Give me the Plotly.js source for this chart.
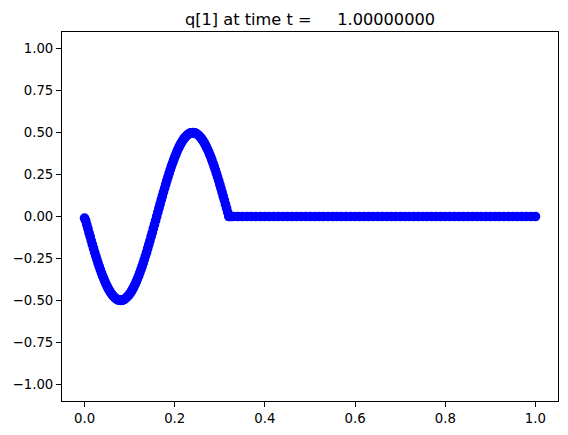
<!DOCTYPE html>
<html>
<head>
<meta charset="utf-8">
<script src="https://cdn.plot.ly/plotly-3.0.1.min.js"></script>
<style>html,body{margin:0;padding:0;background:#fff;}</style>
</head>
<body>
<div id="chart" style="width:568px;height:435px;"></div>
<script>
// x positions of the plotted points (wave part, then flat part)
const xWave = [0,0.0025,0.005,0.0075,0.01,0.0125,0.015,0.0175,0.02,0.0225,0.025,0.0275,0.03,0.0325,0.035,0.0375,0.04,
  0.0425,0.045,0.0475,0.05,0.0525,0.055,0.0575,0.06,0.0625,0.065,0.0675,0.07,0.0725,0.075,0.0775,0.08,
  0.0825,0.085,0.0875,0.09,0.0925,0.095,0.0975,0.1,0.1025,0.105,0.1075,0.11,0.1125,0.115,0.1175,0.12,
  0.1225,0.125,0.1275,0.13,0.1325,0.135,0.1375,0.14,0.1425,0.145,0.1475,0.15,0.1525,0.155,0.1575,0.16,
  0.1625,0.165,0.1675,0.17,0.1725,0.175,0.1775,0.18,0.1825,0.185,0.1875,0.19,0.1925,0.195,0.1975,0.2,
  0.2025,0.205,0.2075,0.21,0.2125,0.215,0.2175,0.22,0.2225,0.225,0.2275,0.23,0.2325,0.235,0.2375,0.24,
  0.2425,0.245,0.2475,0.25,0.2525,0.255,0.2575,0.26,0.2625,0.265,0.2675,0.27,0.2725,0.275,0.2775,0.28,
  0.2825,0.285,0.2875,0.29,0.2925,0.295,0.2975,0.3,0.3025,0.305,0.3075,0.31,0.3125,0.315,0.3175,0.32];
const qWave = [-0.010,-0.025,-0.049,-0.073,-0.098,-0.121,-0.145,-0.168,-0.191,-0.214,-0.236,-0.257,-0.278,-0.298,-0.317,-0.336,-0.354,
  -0.370,-0.387,-0.402,-0.416,-0.429,-0.441,-0.452,-0.462,-0.471,-0.478,-0.485,-0.490,-0.495,-0.498,-0.499,-0.500,
  -0.499,-0.498,-0.495,-0.490,-0.485,-0.478,-0.471,-0.462,-0.452,-0.441,-0.429,-0.416,-0.402,-0.387,-0.370,-0.354,
  -0.336,-0.317,-0.298,-0.278,-0.257,-0.236,-0.214,-0.191,-0.168,-0.145,-0.121,-0.098,-0.073,-0.049,-0.025,0.000,
  0.025,0.049,0.073,0.098,0.121,0.145,0.168,0.191,0.214,0.236,0.257,0.278,0.298,0.317,0.336,0.354,
  0.370,0.387,0.402,0.416,0.429,0.441,0.452,0.462,0.471,0.478,0.485,0.490,0.495,0.498,0.499,0.500,
  0.499,0.498,0.495,0.490,0.485,0.478,0.471,0.462,0.452,0.441,0.429,0.416,0.402,0.387,0.370,0.354,
  0.336,0.317,0.298,0.278,0.257,0.236,0.214,0.191,0.168,0.145,0.121,0.098,0.073,0.049,0.025,0.000];
const xFlat = [0.325,0.33,0.34,0.35,0.36,0.37,0.38,0.39,0.40,0.41,0.42,0.43,0.44,0.45,0.46,0.47,0.48,0.49,0.50,
  0.51,0.52,0.53,0.54,0.55,0.56,0.57,0.58,0.59,0.60,0.61,0.62,0.63,0.64,0.65,0.66,0.67,0.68,0.69,0.70,
  0.71,0.72,0.73,0.74,0.75,0.76,0.77,0.78,0.79,0.80,0.81,0.82,0.83,0.84,0.85,0.86,0.87,0.88,0.89,0.90,
  0.91,0.92,0.93,0.94,0.95,0.96,0.97,0.98,0.99,1.00];
const qFlat = [0,0,0,0,0,0,0,0,0,0,0,0,0,0,0,0,0,0,0,
  0,0,0,0,0,0,0,0,0,0,0,0,0,0,0,0,0,0,0,0,
  0,0,0,0,0,0,0,0,0,0,0,0,0,0,0,0,0,0,0,0,
  0,0,0,0,0,0,0,0,0,0];
const xTicks = [0.0,0.2,0.4,0.6,0.8,1.0];
const xTickLabels = ['0.0','0.2','0.4','0.6','0.8','1.0'];
const yTicks = [-1.0,-0.75,-0.5,-0.25,0.0,0.25,0.5,0.75,1.0];
const yTickLabels = ['\u22121.00','\u22120.75','\u22120.50','\u22120.25','0.00','0.25','0.50','0.75','1.00'];
const titleText = 'q[1] at time t =\u00a0\u00a0\u00a0\u00a0\u00a01.00000000';

const xs = xWave.concat(xFlat);
const ys = qWave.concat(qFlat);

const trace = {
  x: xs, y: ys, type: 'scatter', mode: 'markers',
  marker: {color: '#0000ff', size: 8.3, line: {color: '#0000ff', width: 1.4}},
  hoverinfo: 'skip'
};

const axisCommon = {
  showline: true, mirror: true, linecolor: '#000', linewidth: 1.1,
  ticks: 'outside', ticklen: 4.9, tickwidth: 1.1, tickcolor: '#000',
  showgrid: false, zeroline: false,
  tickfont: {family: 'DejaVu Sans', size: 13.3, color: '#000'},
  tickmode: 'array'
};

const layout = {
  width: 568, height: 435,
  margin: {l: 62, r: 9.5, t: 32, b: 34, pad: 0},
  paper_bgcolor: '#fff', plot_bgcolor: '#fff',
  showlegend: false,
  font: {family: 'DejaVu Sans', color: '#000'},
  title: {
    text: titleText,
    font: {family: 'DejaVu Sans', size: 16.2, color: '#000'},
    x: 0.5, xref: 'paper', xanchor: 'center',
    y: 1, yref: 'paper', yanchor: 'bottom',
    pad: {b: 7}
  },
  xaxis: Object.assign({}, axisCommon, {
    range: [-0.05, 1.05], tickvals: xTicks, ticktext: xTickLabels
  }),
  yaxis: Object.assign({}, axisCommon, {
    range: [-1.1, 1.1], tickvals: yTicks, ticktext: yTickLabels
  })
};

Plotly.newPlot('chart', [trace], layout, {staticPlot: true, displayModeBar: false});
</script>
</body>
</html>
